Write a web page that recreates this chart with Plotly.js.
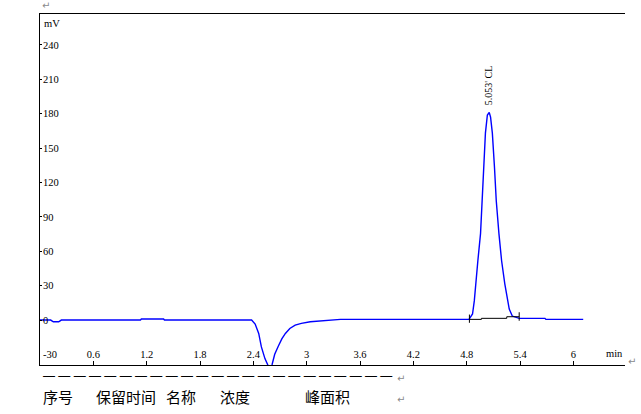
<!DOCTYPE html>
<html>
<head>
<meta charset="utf-8">
<script src="https://cdn.plot.ly/plotly-3.0.1.min.js"></script>
<style>
html,body{margin:0;padding:0;background:#fff;}
#chart{width:641px;height:414px;}
</style>
</head>
<body>
<div id="chart"></div>
<script>
// chromatogram signal (min, mV)
const time = [0.00,0.12,0.15,0.21,0.24,1.13,1.14,1.39,1.40,2.38,2.42,2.46,2.49,2.53,2.57,2.59,2.61,2.64,2.68,2.72,2.76,2.81,2.87,2.94,3.04,3.20,3.38,4.825,4.865,4.885,4.905,4.925,4.955,4.975,4.995,5.01,5.032,5.053,5.068,5.088,5.112,5.132,5.162,5.192,5.228,5.278,5.312,5.39,5.68,5.69,6.11];
const signal = [0.0,0.0,-1.5,-1.5,0.0,0.0,0.9,0.9,0.0,0.0,-3.5,-11.7,-23.4,-33.6,-40.5,-43,-39,-29.8,-22.8,-16.4,-11.7,-7.3,-4.4,-2.9,-1.5,-0.3,0.6,0.6,5.3,16.7,31.6,51.7,75.4,104.3,133.2,163,178.8,181,177,163,133,104,75.4,51.7,31.6,9.6,3.5,1.5,1.5,0.6,0.6];

// integration baseline and its end markers
const baseTime = [4.83,4.965,4.965,5.25,5.25,5.39];
const baseSignal = [0.6,0.6,1.5,1.5,2.9,2.9];
const markTime = [4.83,4.83,null,5.39,5.39];
const markSignal = [-2.4,4.8,null,-0.6,6.8];

// peak label
const peakTime = 5.053;
const peakLabelY = 205;
const peakLabel = "5.053' CL";

// axes
const xTickVals = [0.6,1.2,1.8,2.4,3.0,3.6,4.2,4.8,5.4,6.0];
const xTickText = ['0.6','1.2','1.8','2.4','3','3.6','4.2','4.8','5.4','6'];
const yTickVals = [-30,0,30,60,90,120,150,180,210,240];
const yTickText = ['-30','0','30','60','90','120','150','180','210','240'];
const yUnit = 'mV';
const xUnit = 'min';

// table header below chart
const headers = ['序号','保留时间','名称','浓度','峰面积'];
const headerPx = [41,94,164,218,303];
const dashCount = 23;

const L = 40, T = 14, W = 585, H = 351;
const px2x = p => (p - L) / W;
const py2y = p => (T + H - p) / H;

const serif = {family:'"Liberation Serif", "Times New Roman", serif', size:10.5, color:'#000'};
const cjk = {family:'"Noto Sans CJK SC", sans-serif', size:15, color:'#000'};
const grey = {family:'"DejaVu Sans", sans-serif', size:10, color:'#8a8a8a'};

const annotations = [
  {xref:'paper', yref:'paper', x:px2x(42), y:py2y(23), text:yUnit, showarrow:false, xanchor:'left', yanchor:'middle', font:serif},
  {xref:'paper', yref:'paper', x:px2x(625), y:py2y(353), text:xUnit, showarrow:false, xanchor:'right', yanchor:'middle', font:serif},
  // lowest y tick label (Plotly hides it next to the inside x labels)
  {xref:'paper', yref:'y', x:px2x(41), y:yTickVals[0], text:yTickText[0], showarrow:false, xanchor:'left', yanchor:'middle', font:serif},
  {xref:'x', yref:'y', x:peakTime, y:peakLabelY, text:peakLabel, textangle:-90, showarrow:false, xanchor:'center', yanchor:'middle', font:{family:'"Liberation Serif", serif', size:10, color:'#000'}},
  {xref:'paper', yref:'paper', x:px2x(41), y:py2y(376), text:Array(dashCount).fill('—').join(' '), showarrow:false, xanchor:'left', yanchor:'middle', font:{family:'"Liberation Sans", sans-serif', size:12, color:'#000'}},
  {xref:'paper', yref:'paper', x:px2x(395), y:py2y(378), text:'↵', showarrow:false, xanchor:'left', yanchor:'middle', font:grey},
  {xref:'paper', yref:'paper', x:px2x(395), y:py2y(399), text:'↵', showarrow:false, xanchor:'left', yanchor:'middle', font:grey},
  {xref:'paper', yref:'paper', x:px2x(40), y:py2y(6), text:'↵', showarrow:false, xanchor:'left', yanchor:'middle', font:grey},
  {xref:'paper', yref:'paper', x:px2x(626), y:py2y(361), text:'↵', showarrow:false, xanchor:'left', yanchor:'middle', font:grey}
];
headers.forEach((h,i)=>{
  annotations.push({xref:'paper', yref:'paper', x:px2x(headerPx[i]), y:py2y(396), text:h, showarrow:false, xanchor:'left', yanchor:'middle', font:cjk});
});

const data = [
  {x:time, y:signal, type:'scatter', mode:'lines', line:{color:'#0000ff', width:1.4}, hoverinfo:'skip'},
  {x:baseTime, y:baseSignal, type:'scatter', mode:'lines', line:{color:'#000', width:1}, hoverinfo:'skip'},
  {x:markTime, y:markSignal, type:'scatter', mode:'lines', line:{color:'#000', width:1}, connectgaps:false, hoverinfo:'skip'}
];

const layout = {
  width:641, height:414,
  margin:{l:L, r:641-L-W, t:T, b:414-T-H, pad:0},
  paper_bgcolor:'#fff', plot_bgcolor:'#fff',
  showlegend:false,
  xaxis:{range:[0,6.58], tickmode:'array', tickvals:xTickVals, ticktext:xTickText,
    ticks:'inside', ticklen:4, tickcolor:'#000', tickwidth:1,
    ticklabelposition:'inside', tickfont:serif,
    showline:true, linecolor:'#000', linewidth:1, mirror:true,
    showgrid:false, zeroline:false, fixedrange:true},
  yaxis:{range:[-39.2,266.9], tickmode:'array', tickvals:yTickVals, ticktext:yTickText,
    ticks:'inside', ticklen:2, tickcolor:'#000', tickwidth:1,
    ticklabelposition:'inside', tickfont:serif,
    showline:true, linecolor:'#000', linewidth:1, mirror:false,
    showgrid:false, zeroline:false, fixedrange:true},
  annotations:annotations
};

Plotly.newPlot('chart', data, layout, {staticPlot:true, displayModeBar:false});
</script>
</body>
</html>
